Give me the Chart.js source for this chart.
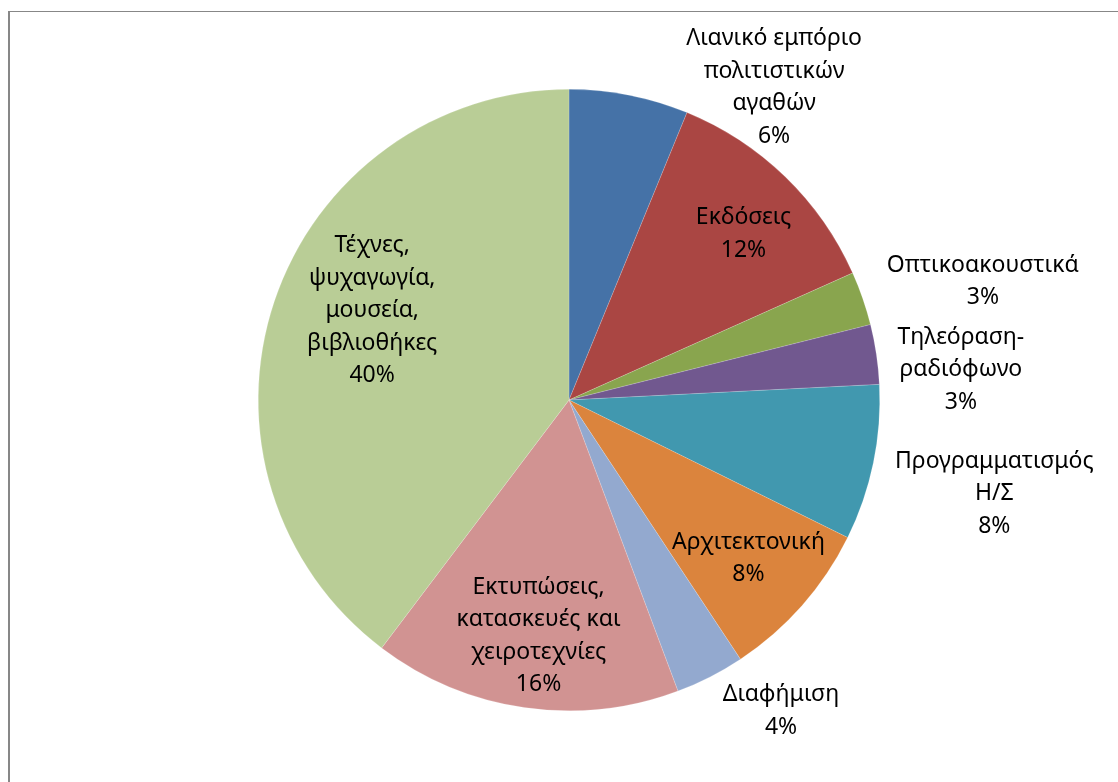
<!DOCTYPE html>
<html lang="el">
<head>
<meta charset="UTF-8">
<title>Πολιτιστικοί κλάδοι</title>
<script src="https://cdn.jsdelivr.net/npm/chart.js"></script>
<style>
    body {
        margin: 0;
        background: #ffffff;
        overflow: hidden;
    }
    .frame {
        position: absolute;
        left: 8px;
        top: 11px;
        width: 1200px;
        height: 900px;
        border-top: 1px solid #878787;
        border-left: 2px solid #878787;
    }
    .chart-box {
        position: absolute;
        left: 0;
        top: 0;
        width: 1118px;
        height: 782px;
    }
</style>
</head>
<body>
<div class="frame"></div>
<div class="chart-box">
    <canvas id="pieChart"></canvas>
</div>

<script>
// Categories (each as its label lines)
const categories = [
    ['Λιανικό εμπόριο', 'πολιτιστικών', 'αγαθών'],
    ['Εκδόσεις'],
    ['Οπτικοακουστικά'],
    ['Τηλεόραση-', 'ραδιόφωνο'],
    ['Προγραμματισμός', 'Η/Σ'],
    ['Αρχιτεκτονική'],
    ['Διαφήμιση'],
    ['Εκτυπώσεις,', 'κατασκευές και', 'χειροτεχνίες'],
    ['Τέχνες,', 'ψυχαγωγία,', 'μουσεία,', 'βιβλιοθήκες']
];

// Shares (%)
const shares = [6.2, 12.1, 2.8, 3.1, 8.1, 8.4, 3.6, 16.0, 39.7];

const colors = ['#4572A7', '#AA4643', '#89A54E', '#71588F', '#4198AF',
                '#DB843D', '#93A9CF', '#D19392', '#B9CD96'];

// Label placement: inside or outside the slice, with a small nudge (px)
const labelLayout = [
    { pos: 'out', dx: 126, dy: 66 },
    { pos: 'in',  dx: 8,   dy: 6 },
    { pos: 'out', dx: 20,  dy: -3 },
    { pos: 'out', dx: 12,  dy: 24 },
    { pos: 'out', dx: 14,  dy: 19 },
    { pos: 'in',  dx: 0,   dy: 0 },
    { pos: 'out', dx: 40,  dy: -4 },
    { pos: 'in',  dx: 4,   dy: -1 },
    { pos: 'in',  dx: 30,  dy: -13 }
];

const FONT = '23px "Noto Sans", "Open Sans", sans-serif';
const LINE_H = 32.5;

// Draws category name + percentage next to / inside each slice
const sliceLabels = {
    id: 'sliceLabels',
    afterDatasetsDraw(chart) {
        const ctx = chart.ctx;
        const arcs = chart.getDatasetMeta(0).data;
        const data = chart.data.datasets[0].data;
        const total = data.reduce((a, b) => a + b, 0);
        ctx.save();
        ctx.font = FONT;
        ctx.fillStyle = '#000000';
        ctx.textAlign = 'center';
        ctx.textBaseline = 'middle';
        arcs.forEach((arc, i) => {
            const p = arc.getProps(['x', 'y', 'startAngle', 'endAngle', 'outerRadius'], true);
            const mid = (p.startAngle + p.endAngle) / 2;
            const cx = Math.cos(mid), cy = Math.sin(mid);
            const lines = categories[i].concat([Math.round(data[i] / total * 100) + '%']);
            const w = Math.max(...lines.map(l => ctx.measureText(l).width));
            const h = lines.length * LINE_H;
            const lay = labelLayout[i];
            let x, y;
            if (lay.pos === 'in') {
                x = p.x + cx * p.outerRadius * 0.77;
                y = p.y + cy * p.outerRadius * 0.77;
            } else {
                x = p.x + cx * (p.outerRadius + 10) + cx * w / 2;
                y = p.y + cy * (p.outerRadius + 10) + cy * h / 2;
            }
            x += lay.dx;
            y += lay.dy;
            const top = y - h / 2 + LINE_H / 2;
            lines.forEach((l, k) => ctx.fillText(l, x, top + k * LINE_H));
        });
        ctx.restore();
    }
};

new Chart(document.getElementById('pieChart'), {
    type: 'pie',
    data: {
        labels: categories,
        datasets: [{
            data: shares,
            backgroundColor: colors,
            borderColor: 'rgba(255,255,255,0.35)',
            borderWidth: 0.5
        }]
    },
    options: {
        responsive: true,
        maintainAspectRatio: false,
        animation: false,
        layout: {
            padding: { top: 89, bottom: 71, left: 258, right: 238 }
        },
        plugins: {
            legend: { display: false },
            tooltip: { enabled: false }
        }
    },
    plugins: [sliceLabels]
});
</script>
</body>
</html>
